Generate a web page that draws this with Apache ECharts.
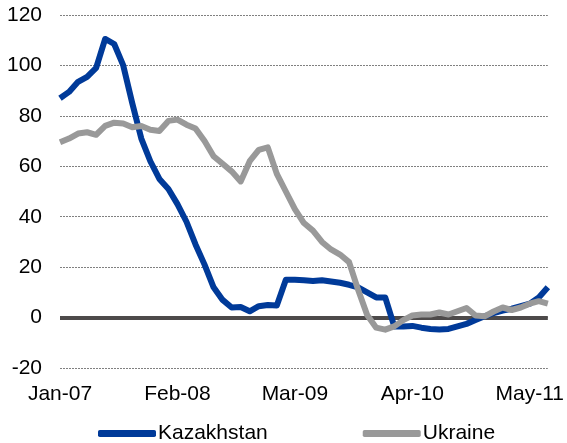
<!DOCTYPE html>
<html>
<head>
<meta charset="utf-8">
<script src="https://cdn.jsdelivr.net/npm/echarts@6/dist/echarts.min.js"></script>
<style>
  html, body { margin: 0; padding: 0; background: #fff; }
  #main { width: 567px; height: 443px; }
</style>
</head>
<body>
<div id="main"></div>
<script>
// monthly, Jan-07 .. Jul-11
const months = [
  'Jan-07', 'Feb-07', 'Mar-07', 'Apr-07', 'May-07', 'Jun-07', 'Jul-07', 'Aug-07', 'Sep-07', 'Oct-07', 'Nov-07', 'Dec-07',
  'Jan-08', 'Feb-08', 'Mar-08', 'Apr-08', 'May-08', 'Jun-08', 'Jul-08', 'Aug-08', 'Sep-08', 'Oct-08', 'Nov-08', 'Dec-08',
  'Jan-09', 'Feb-09', 'Mar-09', 'Apr-09', 'May-09', 'Jun-09', 'Jul-09', 'Aug-09', 'Sep-09', 'Oct-09', 'Nov-09', 'Dec-09',
  'Jan-10', 'Feb-10', 'Mar-10', 'Apr-10', 'May-10', 'Jun-10', 'Jul-10', 'Aug-10', 'Sep-10', 'Oct-10', 'Nov-10', 'Dec-10',
  'Jan-11', 'Feb-11', 'Mar-11', 'Apr-11', 'May-11', 'Jun-11', 'Jul-11'
]

const kazakhstan = [
  87, 89.5, 93.5, 95.5, 99, 110.5, 108.5, 100, 85, 71, 62, 55,
  51, 45, 38, 29, 21, 12, 7, 4, 4.2, 2.5, 4.5, 5,
  4.8, 15, 15, 14.8, 14.5, 14.8, 14.3, 13.8, 13, 12, 10, 8,
  8, -3.5, -3.5, -3.3, -4, -4.5, -4.7, -4.5, -3.5, -2.5, -1, 0.5,
  1.8, 2.8, 3.5, 4.5, 5.5, 8, 12
]

const ukraine = [
  69.5, 71, 73, 73.5, 72.5, 76, 77.3, 77, 75.5, 76, 74.5, 74,
  78, 78.5, 76.5, 75, 70, 64, 61, 58, 54, 62, 66.5, 67.5,
  57, 50, 43, 37.5, 34.5, 30, 27, 25, 22, 11, 1, -4,
  -4.8, -3.5, -1, 0.8, 1.2, 1.2, 2, 1.2, 2.5, 3.8, 0.8, 0.5,
  2.4, 4, 3, 4, 5.5, 6.5, 5.5
]

const seriesNames = ['Kazakhstan', 'Ukraine']
const colors = ['#003a99', '#999999']

const chart = echarts.init(document.getElementById('main'))

const fontFamily = 'Liberation Sans, Arial, sans-serif'

chart.setOption({
  animation: false,
  color: colors,
  grid: { left: 60, right: 16, top: 15, bottom: 75 },
  legend: {
    data: seriesNames,
    left: 93,
    top: 418,
    itemWidth: 58,
    itemHeight: 7,
    itemGap: 95,
    icon: 'roundRect',
    textStyle: { fontFamily: fontFamily, fontSize: 21, color: '#000', padding: [0, 0, 0, -3] }
  },
  xAxis: {
    type: 'category',
    data: months,
    boundaryGap: false,
    axisLine: { show: false, onZero: false },
    axisTick: { show: false },
    axisLabel: {
      interval: 12,
      margin: 16,
      color: '#000',
      fontFamily: fontFamily,
      fontSize: 21
    },
    splitLine: { show: false }
  },
  yAxis: {
    type: 'value',
    min: -20,
    max: 120,
    interval: 20,
    axisLine: { show: false },
    axisTick: { show: false },
    axisLabel: {
      margin: 18,
      color: '#000',
      fontFamily: fontFamily,
      fontSize: 21
    },
    splitLine: {
      lineStyle: { color: '#808080', type: [2, 1], width: 1 }
    }
  },
  series: [
    {
      name: seriesNames[0],
      type: 'line',
      data: kazakhstan,
      symbol: 'none',
      lineStyle: { width: 6, color: colors[0], join: 'round' },
      z: 2,
      markLine: {
        silent: true,
        symbol: 'none',
        label: { show: false },
        lineStyle: { color: '#4d4a4a', width: 4, type: 'solid' },
        data: [{ yAxis: 0 }],
        z: 1
      }
    },
    {
      name: seriesNames[1],
      type: 'line',
      data: ukraine,
      symbol: 'none',
      lineStyle: { width: 6, color: colors[1], join: 'round' },
      z: 3
    }
  ]
})
</script>
</body>
</html>
